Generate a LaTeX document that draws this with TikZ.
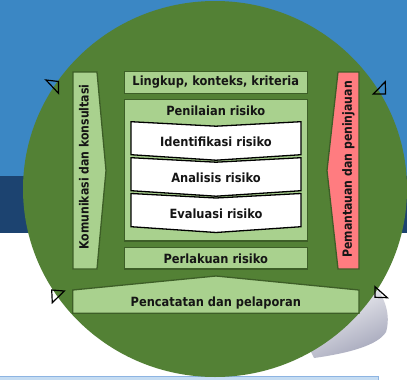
\documentclass[tikz,border=0pt]{standalone}
\usepackage{fontspec}
\usepackage{graphicx}
\setmainfont{DejaVu Sans}
\usetikzlibrary{shapes.geometric}

\definecolor{skyblue}{HTML}{3B87C4}
\definecolor{navyband}{HTML}{1C4370}
\definecolor{disc}{HTML}{538135}
\definecolor{leaf}{HTML}{A9D18E}
\definecolor{edge}{HTML}{3D5E27}
\definecolor{salmon}{HTML}{FF7C80}
\definecolor{ink}{HTML}{151515}
\definecolor{barfill}{HTML}{C5DCF2}
\definecolor{bardraw}{HTML}{8DB4E2}
\definecolor{shadowgray}{HTML}{A4A6BA}

% bold labels, set a little narrower
\newcommand\steplabel[1]{\scalebox{0.9}[1]{#1}}
\newcommand\sidelabel[1]{\scalebox{0.86}[1]{#1}}

\tikzset{
  panel/.style={fill=leaf, draw=edge, line width=1.3pt},
  stage/.style={fill=white, draw=black, line width=1.3pt},
  marker/.style={draw=black, line width=1.2pt, line join=miter},
  label/.style={text=ink, font=\bfseries\fontsize{12.7}{15}\selectfont, inner sep=0pt},
}

\begin{document}
\begin{tikzpicture}[x=1pt, y=-1pt]
  \useasboundingbox (0,0) rectangle (407,380);

  % backdrop bands
  \fill[skyblue] (0,0) rectangle (407,176);
  \fill[navyband] (0,176) rectangle (407,233);
  \fill[white] (0,233) rectangle (407,380);
  \fill[barfill, draw=bardraw, line width=0.8pt] (-1,376.6) rectangle (378,381);

  % soft shadow under the disc
  \shade[top color=white, bottom color=shadowgray, shading angle=25]
    (340,280) -- (374,284) .. controls (385,298) and (391,315) .. (386,332)
    .. controls (378,345) and (350,353) .. (314,358) -- (300,330) -- cycle;

  % the disc
  \fill[disc] (215,189) ellipse [x radius=192, y radius=188];

  % cycle markers
  \draw[marker] (46,80) -- (58.5,81.5) -- (58.5,93.3) -- cycle;
  \draw[marker] (373.3,94) -- (385.3,81.7) -- (385.5,94) -- cycle;
  \draw[marker] (51.7,290) -- (64.3,291) -- (52.3,302.7) -- cycle;
  \draw[marker] (375,286.7) -- (387.3,297.7) -- (375,297.3) -- cycle;

  % side bars
  \draw[panel, line join=miter] (73,72) -- (97,72) -- (106,170.5) -- (97,269) -- (73,269) -- cycle;
  \draw[fill=salmon, draw=edge, line width=1.3pt, line join=miter]
    (359,72) -- (338,72) -- (327,170.5) -- (338,269) -- (359,269) -- cycle;
  \node[label, rotate=90] (komunikasi) at (84,167) {\sidelabel{Komunikasi dan konsultasi}};
  \node[label, rotate=90] (pemantauan) at (348.5,169.5) {\sidelabel{Pemantauan dan peninjauan}};

  % central column
  \draw[panel] (124.3,71.7) rectangle (307.3,93.3);
  \node[label] (lingkup) at (215.8,82.5) {\steplabel{Lingkup, konteks, kriteria}};

  \draw[panel] (124.3,99.3) rectangle (307.3,241);
  \node[label] (penilaian) at (215.8,110.7) {\steplabel{Penilaian risiko}};

  \draw[stage, line join=miter] (131,121.7) -- (216,126.2) -- (301,121.7) -- (301,154.7) -- (216,160.2) -- (131,154.7) -- cycle;
  \node[label] (identifikasi) at (216,141.5) {\steplabel{Identifikasi risiko}};

  \draw[stage, line join=miter] (131,157.7) -- (216,162.2) -- (301,157.7) -- (301,190.7) -- (216,196.2) -- (131,190.7) -- cycle;
  \node[label] (analisis) at (216,177.8) {\steplabel{Analisis risiko}};

  \draw[stage, line join=miter] (131,193.5) -- (216,198) -- (301,193.5) -- (301,226.7) -- (216,232.5) -- (131,226.7) -- cycle;
  \node[label] (evaluasi) at (216,213.8) {\steplabel{Evaluasi risiko}};

  \draw[panel] (124.3,247.7) rectangle (307.3,269);
  \node[label] (perlakuan) at (215.8,258.3) {\steplabel{Perlakuan risiko}};

  % bottom banner
  \draw[panel, line join=miter] (72.7,290) -- (216,276) -- (359,290) -- (359,313.3) -- (72.7,313.3) -- cycle;
  \node[label] (pencatatan) at (215.8,302.5) {\steplabel{Pencatatan dan pelaporan}};
\end{tikzpicture}
\end{document}
